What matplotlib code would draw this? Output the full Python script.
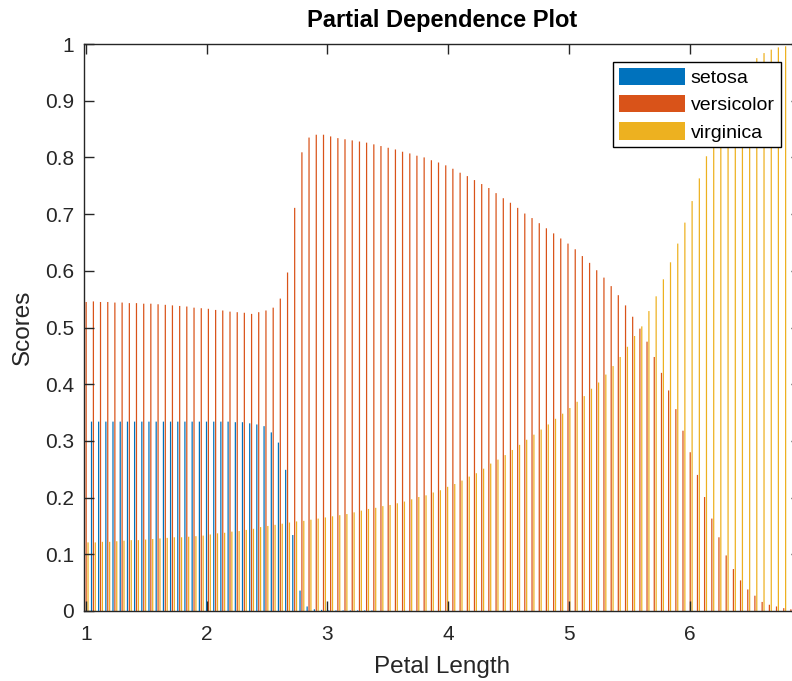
import matplotlib.pyplot as plt
import numpy as np

plt.rcParams['font.family'] = ['Liberation Sans', 'DejaVu Sans']

# Petal length grid (100 points from 1 to 6.9)
petal_length = [
    1.000, 1.060, 1.119, 1.179, 1.238, 1.298, 1.358, 1.417, 1.477, 1.536,
    1.596, 1.656, 1.715, 1.775, 1.834, 1.894, 1.954, 2.013, 2.073, 2.132,
    2.192, 2.252, 2.311, 2.371, 2.430, 2.490, 2.550, 2.609, 2.669, 2.728,
    2.788, 2.847, 2.907, 2.967, 3.026, 3.086, 3.145, 3.205, 3.265, 3.324,
    3.384, 3.443, 3.503, 3.563, 3.622, 3.682, 3.741, 3.801, 3.861, 3.920,
    3.980, 4.039, 4.099, 4.159, 4.218, 4.278, 4.337, 4.397, 4.457, 4.516,
    4.576, 4.635, 4.695, 4.755, 4.814, 4.874, 4.933, 4.993, 5.053, 5.112,
    5.172, 5.231, 5.291, 5.351, 5.410, 5.470, 5.529, 5.589, 5.648, 5.708,
    5.768, 5.827, 5.887, 5.946, 6.006, 6.066, 6.125, 6.185, 6.244, 6.304,
    6.364, 6.423, 6.483, 6.542, 6.602, 6.662, 6.721, 6.781, 6.840, 6.900,
]

setosa = [
    0.334, 0.334, 0.334, 0.334, 0.334, 0.334, 0.334, 0.334, 0.334, 0.334,
    0.334, 0.334, 0.334, 0.334, 0.334, 0.334, 0.334, 0.334, 0.334, 0.334,
    0.334, 0.333, 0.333, 0.331, 0.329, 0.326, 0.315, 0.297, 0.249, 0.134,
    0.036, 0.008, 0.003, 0.002, 0.001, 0.001, 0.001, 0.001, 0.001, 0.001,
    0.001, 0.000, 0.000, 0.000, 0.000, 0.000, 0.000, 0.000, 0.000, 0.000,
    0.000, 0.000, 0.000, 0.000, 0.000, 0.000, 0.000, 0.000, 0.000, 0.000,
    0.000, 0.000, 0.000, 0.000, 0.000, 0.000, 0.000, 0.000, 0.000, 0.000,
    0.000, 0.000, 0.000, 0.000, 0.000, 0.000, 0.000, 0.000, 0.000, 0.000,
    0.000, 0.000, 0.000, 0.000, 0.000, 0.000, 0.000, 0.000, 0.000, 0.000,
    0.000, 0.000, 0.000, 0.000, 0.000, 0.000, 0.000, 0.000, 0.000, 0.000,
]

versicolor = [
    0.545, 0.546, 0.545, 0.545, 0.544, 0.544, 0.543, 0.543, 0.542, 0.542,
    0.541, 0.540, 0.539, 0.538, 0.537, 0.535, 0.534, 0.533, 0.531, 0.530,
    0.528, 0.527, 0.526, 0.524, 0.527, 0.530, 0.535, 0.551, 0.597, 0.711,
    0.809, 0.835, 0.840, 0.840, 0.837, 0.834, 0.832, 0.830, 0.828, 0.826,
    0.823, 0.820, 0.817, 0.814, 0.810, 0.807, 0.803, 0.800, 0.795, 0.791,
    0.786, 0.780, 0.773, 0.767, 0.760, 0.753, 0.746, 0.737, 0.728, 0.720,
    0.711, 0.701, 0.693, 0.684, 0.675, 0.666, 0.657, 0.648, 0.638, 0.626,
    0.614, 0.601, 0.588, 0.573, 0.557, 0.539, 0.519, 0.498, 0.475, 0.448,
    0.420, 0.389, 0.356, 0.318, 0.280, 0.240, 0.201, 0.163, 0.130, 0.098,
    0.074, 0.054, 0.038, 0.027, 0.016, 0.011, 0.008, 0.005, 0.003, 0.002,
]

virginica = [
    0.121, 0.121, 0.122, 0.122, 0.123, 0.124, 0.125, 0.125, 0.126, 0.127,
    0.128, 0.129, 0.130, 0.130, 0.131, 0.132, 0.133, 0.135, 0.137, 0.138,
    0.140, 0.141, 0.143, 0.145, 0.148, 0.150, 0.152, 0.154, 0.156, 0.158,
    0.159, 0.161, 0.163, 0.165, 0.167, 0.169, 0.171, 0.174, 0.177, 0.180,
    0.182, 0.185, 0.187, 0.190, 0.193, 0.197, 0.201, 0.204, 0.209, 0.213,
    0.219, 0.224, 0.230, 0.237, 0.243, 0.251, 0.260, 0.267, 0.275, 0.284,
    0.293, 0.302, 0.311, 0.320, 0.329, 0.339, 0.348, 0.358, 0.369, 0.379,
    0.392, 0.403, 0.417, 0.432, 0.448, 0.466, 0.485, 0.502, 0.529, 0.555,
    0.585, 0.615, 0.648, 0.685, 0.723, 0.763, 0.802, 0.837, 0.870, 0.902,
    0.926, 0.946, 0.962, 0.975, 0.984, 0.990, 0.994, 0.996, 0.997, 0.998,
]

class_names = ['setosa', 'versicolor', 'virginica']
colors = ['#0072BD', '#D95319', '#EDB120']

fig = plt.figure(figsize=(7.92, 6.81), dpi=100)
# axes runs past the right edge of the figure, like the cropped original
ax = fig.add_axes([83.5 / 792, 1 - 611 / 681, (801 - 83.5) / 792, (611 - 44) / 681])

x = np.array(petal_length)
step = x[1] - x[0]
offset = 0.26 * step
width = 0.17 * step

handles = []
for k, (vals, c) in enumerate(zip([setosa, versicolor, virginica], colors)):
    h = ax.bar(x + (k - 1) * offset, vals, width=width, color=c, linewidth=0)
    for p in h:
        p.set_snap(False)
    handles.append(h)

ax.set_xlim(0.978, 6.924)
ax.set_ylim(0, 1)
ax.set_xticks([1, 2, 3, 4, 5, 6])
ax.set_yticks(np.arange(0, 1.01, 0.1))
ax.set_yticklabels(['0', '0.1', '0.2', '0.3', '0.4', '0.5', '0.6', '0.7', '0.8', '0.9', '1'])

dark = '#262626'
for s in ax.spines.values():
    s.set_color(dark)
    s.set_linewidth(1.0)
ax.tick_params(direction='in', length=7, width=1, top=True, right=True,
               color=dark, labelcolor=dark, labelsize=15)
ax.tick_params(axis='x', pad=10)
ax.tick_params(axis='y', pad=7)

ax.set_xlabel('Petal Length', fontsize=17.5, color=dark, labelpad=9)
ax.set_ylabel('Scores', fontsize=17.5, color=dark, labelpad=8)
ax.set_title('Partial Dependence Plot', fontsize=17, fontweight='bold', color='black', pad=12)

leg = fig.legend(handles, class_names, loc='upper left',
                 bbox_to_anchor=(613 / 792, 1 - 61.7 / 681), borderaxespad=0,
                 fontsize=14, handlelength=3.4, handleheight=1.0, labelspacing=0.41,
                 handletextpad=0.3, borderpad=0.3, fancybox=False, framealpha=1,
                 edgecolor='black')
leg.get_frame().set_linewidth(1.0)

fig.savefig('out.png', dpi=100)
